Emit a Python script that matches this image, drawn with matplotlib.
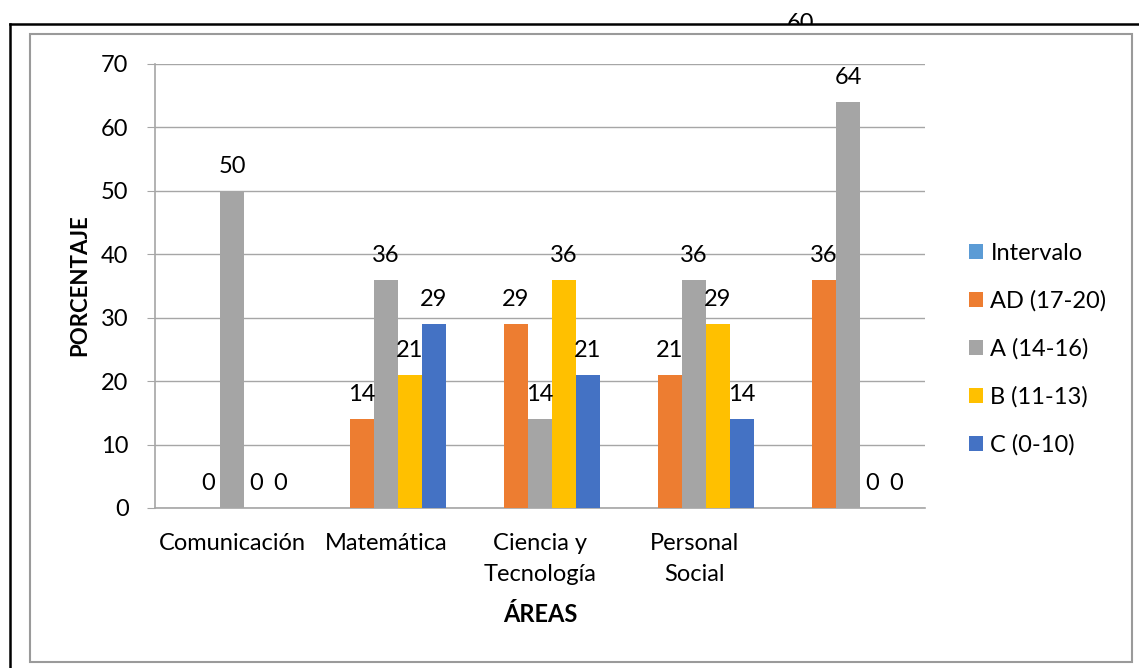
import numpy as np
import matplotlib
matplotlib.use("Agg")
from matplotlib import pyplot as plt
from matplotlib.lines import Line2D
from matplotlib.patches import Rectangle

plt.rcParams['font.family'] = ['Lato', 'DejaVu Sans']

# data
areas = ['Comunicación', 'Matemática', 'Ciencia y\nTecnología', 'Personal\nSocial', '']
series_names = ['Intervalo', 'AD (17-20)', 'A (14-16)', 'B (11-13)', 'C (0-10)']
intervalo = [np.nan, np.nan, np.nan, np.nan, np.nan]
ad = [0, 14, 29, 21, 36]
a = [50, 36, 14, 36, 64]
b = [0, 21, 36, 29, 0]
c = [0, 29, 21, 14, 0]
stray_label = '60'   # label cut off at the top of the picture
colors = ['#5B9BD5', '#ED7D31', '#A5A5A5', '#FFC000', '#4472C4']

W, H = 1139, 668
fig = plt.figure(figsize=(W / 100, H / 100), dpi=100)

def fx(x):
    return x / W

def fy(y):
    return 1 - y / H

ax = fig.add_axes([fx(155), fy(508), (925 - 155) / W, (508 - 64) / H])

fs = 17
grid_col = '#A6A6A6'
x = np.arange(len(areas))
bw = 24 / 154
all_series = [intervalo, ad, a, b, c]
for i, (vals, name, col) in enumerate(zip(all_series, series_names, colors)):
    pos = x + (i - 2) * bw
    ax.bar(pos, vals, width=bw, color=col, label=name, zorder=3)
    for p, v in zip(pos, vals):
        if np.isnan(v):
            continue
        ax.annotate(f'{v:g}', (p, v), xytext=(0, 10), textcoords='offset points',
                    ha='center', va='bottom', fontsize=fs, zorder=4)

ax.set_xlim(-0.5, 4.5)
ax.set_ylim(0, 70)
ax.set_yticks(range(0, 71, 10))
ax.set_xticks(x)
ax.set_xticklabels(areas, fontsize=fs, va='top', linespacing=1.6)
ax.tick_params(axis='x', length=0, pad=18)
ax.tick_params(axis='y', length=6, color=grid_col, labelsize=fs, pad=13)
ax.grid(axis='y', color=grid_col, linewidth=1, zorder=0)
for s in ['top', 'right']:
    ax.spines[s].set_visible(False)
for s in ['left', 'bottom']:
    ax.spines[s].set_color(grid_col)
    ax.spines[s].set_linewidth(1.2)

fig.text(fx(540), fy(615), 'ÁREAS', ha='center', va='center', fontsize=fs, fontweight='bold')
fig.text(fx(80), fy(285), 'PORCENTAJE', ha='center', va='center', rotation=90,
         fontsize=16, fontweight='bold')

ax.legend(loc='center left', bbox_to_anchor=(fx(948), fy(349)), bbox_transform=fig.transFigure,
          frameon=False, fontsize=fs, handlelength=0.6, handleheight=0.6,
          handletextpad=0.3, labelspacing=1.12)

# stray label above the frame, lower half hidden
fig.text(fx(801), fy(24), stray_label, ha='center', va='center', fontsize=fs, zorder=1)
fig.add_artist(Rectangle((fx(0), fy(34)), fx(1139), fy(24) - fy(34), transform=fig.transFigure,
                         facecolor='white', edgecolor='none', zorder=2))

# outer frames
fig.add_artist(Line2D([fx(10), fx(1139)], [fy(24), fy(24)], color='black', lw=1.8, zorder=5))
fig.add_artist(Line2D([fx(10), fx(10)], [fy(24), fy(668)], color='black', lw=1.8, zorder=5))
fig.add_artist(Rectangle((fx(30), fy(662)), fx(1132) - fx(30), fy(34) - fy(662),
                         transform=fig.transFigure, facecolor='none', edgecolor='#9A9A9A',
                         lw=1.5, zorder=5))

fig.savefig('out.png', dpi=100)
